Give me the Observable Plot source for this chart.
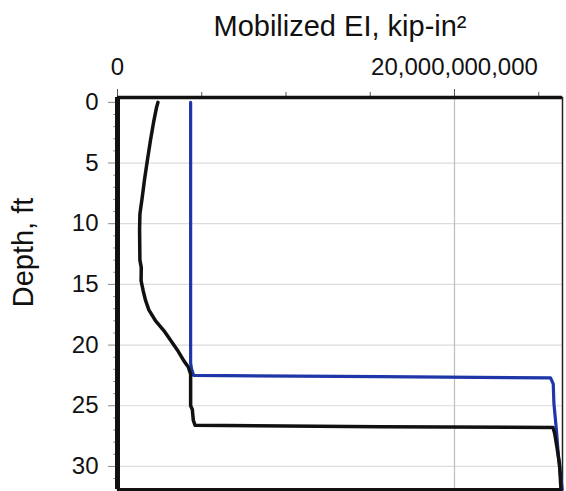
<!DOCTYPE html>
<html>
<head>
<meta charset="utf-8">
<script src="https://cdn.jsdelivr.net/npm/d3@7"></script>
<script src="https://cdn.jsdelivr.net/npm/@observablehq/plot@0.6"></script>
<style>
  html, body { margin: 0; padding: 0; background: #fff; }
  #chart { width: 566px; height: 491px; }
</style>
</head>
<body>
<div id="chart"></div>
<script>
// ---- data (EI in kip-in², depth in ft) ----
const titleText = "Mobilized EI, kip-in²";
const yLabelText = "Depth, ft";

// Black curve
const blackDepth = [0, 0.4, 1.5, 3.1, 4.9, 6.4, 7.8, 9.2, 10.5, 13.0, 13.6, 14.7, 15.5, 16.3, 17.1, 18.0, 18.8, 19.6, 20.4, 21.3, 21.8, 22.4, 25.0, 25.3, 26.2, 26.6, 26.72, 26.8, 27.3, 28.5, 29.8, 31.9];
const blackEI    = [2.40e9, 2.32e9, 2.16e9, 1.96e9, 1.76e9, 1.60e9, 1.47e9, 1.33e9, 1.31e9, 1.33e9, 1.41e9, 1.40e9, 1.52e9, 1.66e9, 1.86e9, 2.26e9, 2.75e9, 3.15e9, 3.55e9, 3.94e9, 4.20e9, 4.34e9, 4.34e9, 4.44e9, 4.50e9, 4.60e9, 15.6e9, 25.85e9, 25.95e9, 26.09e9, 26.23e9, 26.32e9];

// Blue curve
const blueDepth = [0, 21.5, 22.0, 22.5, 22.6, 22.7, 23.2, 24.8, 27.0, 29.2, 31.9];
const blueEI    = [4.34e9, 4.34e9, 4.40e9, 4.52e9, 15.6e9, 25.7e9, 25.86e9, 25.9e9, 26.05e9, 26.17e9, 26.39e9];

// Axes
const xDomain = [0, 26.41e9];
const yDomain = [-0.4, 31.9];
const xMajorTicks = [0, 20e9];
const xMinorTicks = [5e9, 10e9, 15e9, 25e9];
const yMajorTicks = [0, 5, 10, 15, 20, 25, 30];
const yMinorTicks = [1, 2, 3, 4, 6, 7, 8, 9, 11, 12, 13, 14, 16, 17, 18, 19, 21, 22, 23, 24, 26, 27, 28, 29, 31];
const yGridTicks = [5, 10, 15, 20, 25, 30];

const black = blackDepth.map((d, i) => ({depth: d, ei: blackEI[i]}));
const blue = blueDepth.map((d, i) => ({depth: d, ei: blueEI[i]}));

const font = "Liberation Sans, Arial, Helvetica, sans-serif";
const blank = () => "";

const chart = Plot.plot({
  width: 566,
  height: 491,
  marginLeft: 117,
  marginTop: 97,
  marginRight: 4,
  marginBottom: 2,
  style: {fontFamily: font, background: "#fff", overflow: "visible"},
  x: {domain: xDomain, label: null},
  y: {domain: yDomain, reverse: true, label: null},
  marks: [
    Plot.gridY(yGridTicks, {stroke: "#dcdcdc", strokeOpacity: 1, strokeWidth: 1.2}),
    Plot.gridX([20e9], {stroke: "#bdbdbd", strokeOpacity: 1, strokeWidth: 1.2}),
    Plot.axisX(xMajorTicks, {anchor: "top", label: null, tickFormat: d3.format(","), tickSize: 9, tickPadding: 14, fontSize: 24, stroke: "#555", fill: "#111"}),
    Plot.axisX(xMinorTicks, {anchor: "top", label: null, tickFormat: blank, tickSize: 6, stroke: "#555"}),
    Plot.axisY(yMajorTicks, {anchor: "left", label: null, tickSize: 9, tickPadding: 10, fontSize: 24, stroke: "#888", fill: "#111"}),
    Plot.axisY(yMinorTicks, {anchor: "left", label: null, tickFormat: blank, tickSize: 4, stroke: "#999"}),
    Plot.frame({stroke: "#222", strokeWidth: 1.5}),
    Plot.ruleY([yDomain[1]], {stroke: "#111", strokeWidth: 3}),
    Plot.line(blue, {x: "ei", y: "depth", stroke: "#1e36a8", strokeWidth: 3.2, curve: "linear"}),
    Plot.line(black, {x: "ei", y: "depth", stroke: "#111", strokeWidth: 3.5, curve: "linear"}),
    Plot.ruleX([xDomain[0]], {stroke: "#111", strokeWidth: 5}),
    Plot.ruleY([yDomain[0]], {stroke: "#111", strokeWidth: 3.5}),
    Plot.text([titleText], {frameAnchor: "top", dy: -71, fontSize: 29, lineAnchor: "middle", fill: "#111"}),
    Plot.text([yLabelText], {frameAnchor: "top-left", dx: -94, dy: 155, rotate: -90, fontSize: 29, textAnchor: "middle", lineAnchor: "middle", fill: "#111"})
  ]
});
document.getElementById("chart").appendChild(chart);
</script>
</body>
</html>
